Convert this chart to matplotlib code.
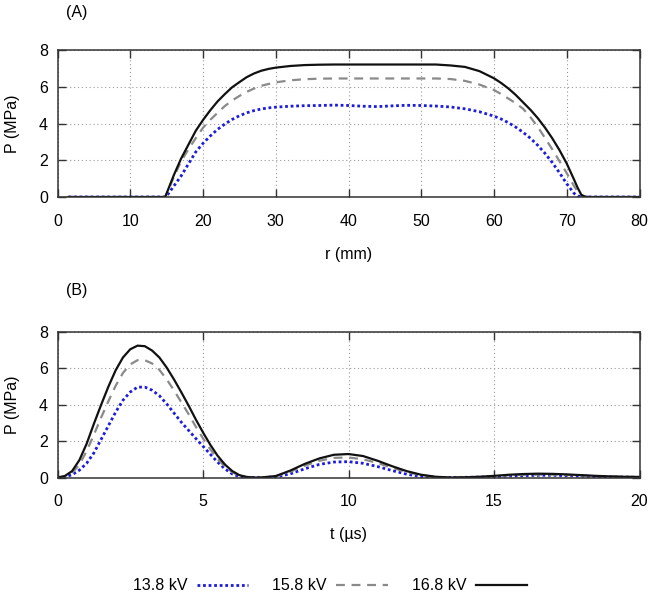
import matplotlib
matplotlib.use("Agg")
import matplotlib.pyplot as plt

plt.rcParams['font.family'] = ['Liberation Sans', 'DejaVu Sans']
plt.rcParams['font.size'] = 11.5

# ---- Panel A: pressure vs radius ----
r_mm = [1.5, 5, 10, 14, 14.8, 15, 16, 17, 18, 19, 20, 21, 22, 23, 24, 25, 26, 27, 28, 29,
        30, 32, 34, 36, 38, 40, 42, 44, 46, 48, 50, 52, 54, 56, 58, 60, 61, 62, 63, 64,
        65, 66, 67, 68, 69, 70, 71, 71.5, 72, 72.5, 73, 75, 80]
pA_138 = [0, 0, 0, 0, 0, 0.05, 0.6, 1.15, 1.8, 2.45, 2.92, 3.32, 3.68, 3.97, 4.22, 4.42, 4.58, 4.7, 4.79, 4.85,
          4.89, 4.94, 4.97, 4.98, 5.0, 4.98, 4.94, 4.92, 4.96, 4.99, 4.98, 4.95, 4.9, 4.8, 4.64, 4.4, 4.24, 4.04, 3.8, 3.52,
          3.2, 2.82, 2.38, 1.88, 1.32, 0.72, 0.2, 0.06, 0.01, 0, 0, 0, 0]
pA_158 = [0, 0, 0, 0, 0, 0.15, 1.1, 1.95, 2.6, 3.2, 3.77, 4.2, 4.58, 4.95, 5.25, 5.5, 5.72, 5.9, 6.05, 6.15,
          6.24, 6.35, 6.41, 6.44, 6.45, 6.45, 6.45, 6.45, 6.45, 6.45, 6.45, 6.45, 6.42, 6.32, 6.12, 5.82, 5.6, 5.35, 5.1, 4.8,
          4.35, 3.82, 3.22, 2.6, 1.95, 1.3, 0.6, 0.3, 0.07, 0.01, 0, 0, 0]
pA_168 = [0, 0, 0, 0, 0, 0.2, 1.2, 2.1, 2.85, 3.6, 4.19, 4.72, 5.2, 5.6, 5.97, 6.25, 6.52, 6.72, 6.87, 6.97,
          7.04, 7.13, 7.18, 7.2, 7.21, 7.21, 7.21, 7.21, 7.21, 7.21, 7.21, 7.21, 7.16, 7.08, 6.85, 6.46, 6.2, 5.9, 5.55, 5.15,
          4.75, 4.3, 3.78, 3.2, 2.55, 1.82, 0.95, 0.5, 0.12, 0.02, 0, 0, 0]

# ---- Panel B: pressure vs time ----
t_us = [0, 0.25, 0.5, 0.75, 1.0, 1.25, 1.5, 1.75, 2.0, 2.25, 2.5, 2.75, 3.0, 3.25, 3.5, 3.75, 4.0, 4.25, 4.5, 4.75,
        5.0, 5.25, 5.5, 5.75, 6.0, 6.25, 6.5, 6.75, 7.0, 7.5, 8.0, 8.5, 9.0, 9.5, 10.0, 10.5, 11.0, 11.5, 12.0, 12.5,
        13.0, 13.5, 14.0, 14.5, 15.0, 15.5, 16.0, 16.5, 17.0, 17.5, 18.0, 18.5, 19.0, 19.5, 20.0]
pB_138 = [0, 0.03, 0.15, 0.4, 0.78, 1.35, 2.1, 2.85, 3.6, 4.25, 4.7, 4.97, 4.97, 4.8, 4.5, 4.05, 3.55, 3.05, 2.6, 2.15,
          1.72, 1.28, 0.85, 0.48, 0.2, 0.05, 0.01, 0, 0, 0.03, 0.2, 0.48, 0.72, 0.85, 0.87, 0.78, 0.6, 0.38, 0.18, 0.05,
          0, 0, 0.01, 0.02, 0.05, 0.08, 0.1, 0.12, 0.12, 0.1, 0.08, 0.05, 0.03, 0.02, 0.01]
pB_158 = [0, 0.05, 0.25, 0.7, 1.45, 2.35, 3.3, 4.2, 5.05, 5.75, 6.22, 6.45, 6.45, 6.27, 5.92, 5.4, 4.8, 4.15, 3.5, 2.8,
          2.15, 1.55, 1.02, 0.6, 0.3, 0.1, 0.02, 0, 0, 0.07, 0.32, 0.65, 0.92, 1.08, 1.1, 1.0, 0.8, 0.53, 0.3, 0.13,
          0.03, 0, 0.01, 0.03, 0.07, 0.12, 0.15, 0.16, 0.16, 0.14, 0.11, 0.08, 0.05, 0.04, 0.02]
pB_168 = [0, 0.08, 0.35, 0.95, 1.85, 2.95, 4.0, 5.0, 5.9, 6.6, 7.05, 7.25, 7.22, 6.98, 6.6, 6.05, 5.4, 4.7, 3.97, 3.2,
          2.48, 1.8, 1.2, 0.72, 0.36, 0.13, 0.03, 0, 0, 0.08, 0.38, 0.75, 1.05, 1.25, 1.29, 1.18, 0.92, 0.62, 0.35, 0.15,
          0.04, 0, 0.01, 0.04, 0.09, 0.15, 0.19, 0.21, 0.2, 0.17, 0.13, 0.09, 0.06, 0.04, 0.03]

labels = ['13.8 kV', '15.8 kV', '16.8 kV']
xticks_A = [0, 10, 20, 30, 40, 50, 60, 70, 80]
xticks_B = [0, 5, 10, 15, 20]
yticks = [0, 2, 4, 6, 8]

styles = [dict(color='#1c1cdc', lw=2.0, ls=(0, (1, 1))),
          dict(color='#8a8a8a', lw=1.6, ls=(0, (4, 3))),
          dict(color='#111111', lw=1.6, ls='-')]

fig = plt.figure(figsize=(6.51, 5.94), dpi=100)
W, H = 651.0, 594.0
axA = fig.add_axes([57.5 / W, 1 - 197 / H, 582 / W, 147 / H])
axB = fig.add_axes([57.5 / W, 1 - 477.5 / H, 582 / W, 145.5 / H])


def style_axes(ax, xticks, xmax, xlabel, xlab_y):
    ax.set_xlim(0, xmax)
    ax.set_ylim(0, 8)
    ax.set_xticks(xticks)
    ax.set_yticks(yticks)
    ax.grid(True, color='#999999', lw=0.8, ls=(0, (1, 2.5)))
    ax.set_axisbelow(True)
    ax.tick_params(direction='in', length=6, width=1.0, color='#333333',
                   top=True, right=True, labelsize=11.5)
    ax.tick_params(axis='x', pad=12)
    ax.tick_params(axis='y', pad=7)
    for s in ax.spines.values():
        s.set_linewidth(1.1)
        s.set_color('#333333')
    ax.set_xlabel(xlabel, fontsize=11.5, va='center')
    ax.xaxis.set_label_coords(0.5, xlab_y)
    ax.set_ylabel('P (MPa)', fontsize=11.5)
    ax.yaxis.set_label_coords(-0.064, 0.5)


handles = []
for y, st, lab in zip([pA_138, pA_158, pA_168], styles, labels):
    h, = axA.plot(r_mm, y, label=lab, **st)
    handles.append(h)
for y, st, lab in zip([pB_138, pB_158, pB_168], styles, labels):
    axB.plot(t_us, y, **st)

style_axes(axA, xticks_A, 80, 'r (mm)', -(255 - 197) / 147)
style_axes(axB, xticks_B, 20, 't (\u00b5s)', -(535 - 477.5) / 145.5)

fig.text(77 / W, 1 - 13 / H, '(A)', ha='center', va='center', fontsize=11.5)
fig.text(77 / W, 1 - 291 / H, '(B)', ha='center', va='center', fontsize=11.5)

fig.legend(handles=handles, labels=labels, loc='center', ncol=3,
           bbox_to_anchor=(330 / W, 1 - 586 / H), frameon=False,
           markerfirst=False, handlelength=3.2, columnspacing=1.5,
           handletextpad=0.6, fontsize=11.5)

fig.savefig('out.png', dpi=100)
